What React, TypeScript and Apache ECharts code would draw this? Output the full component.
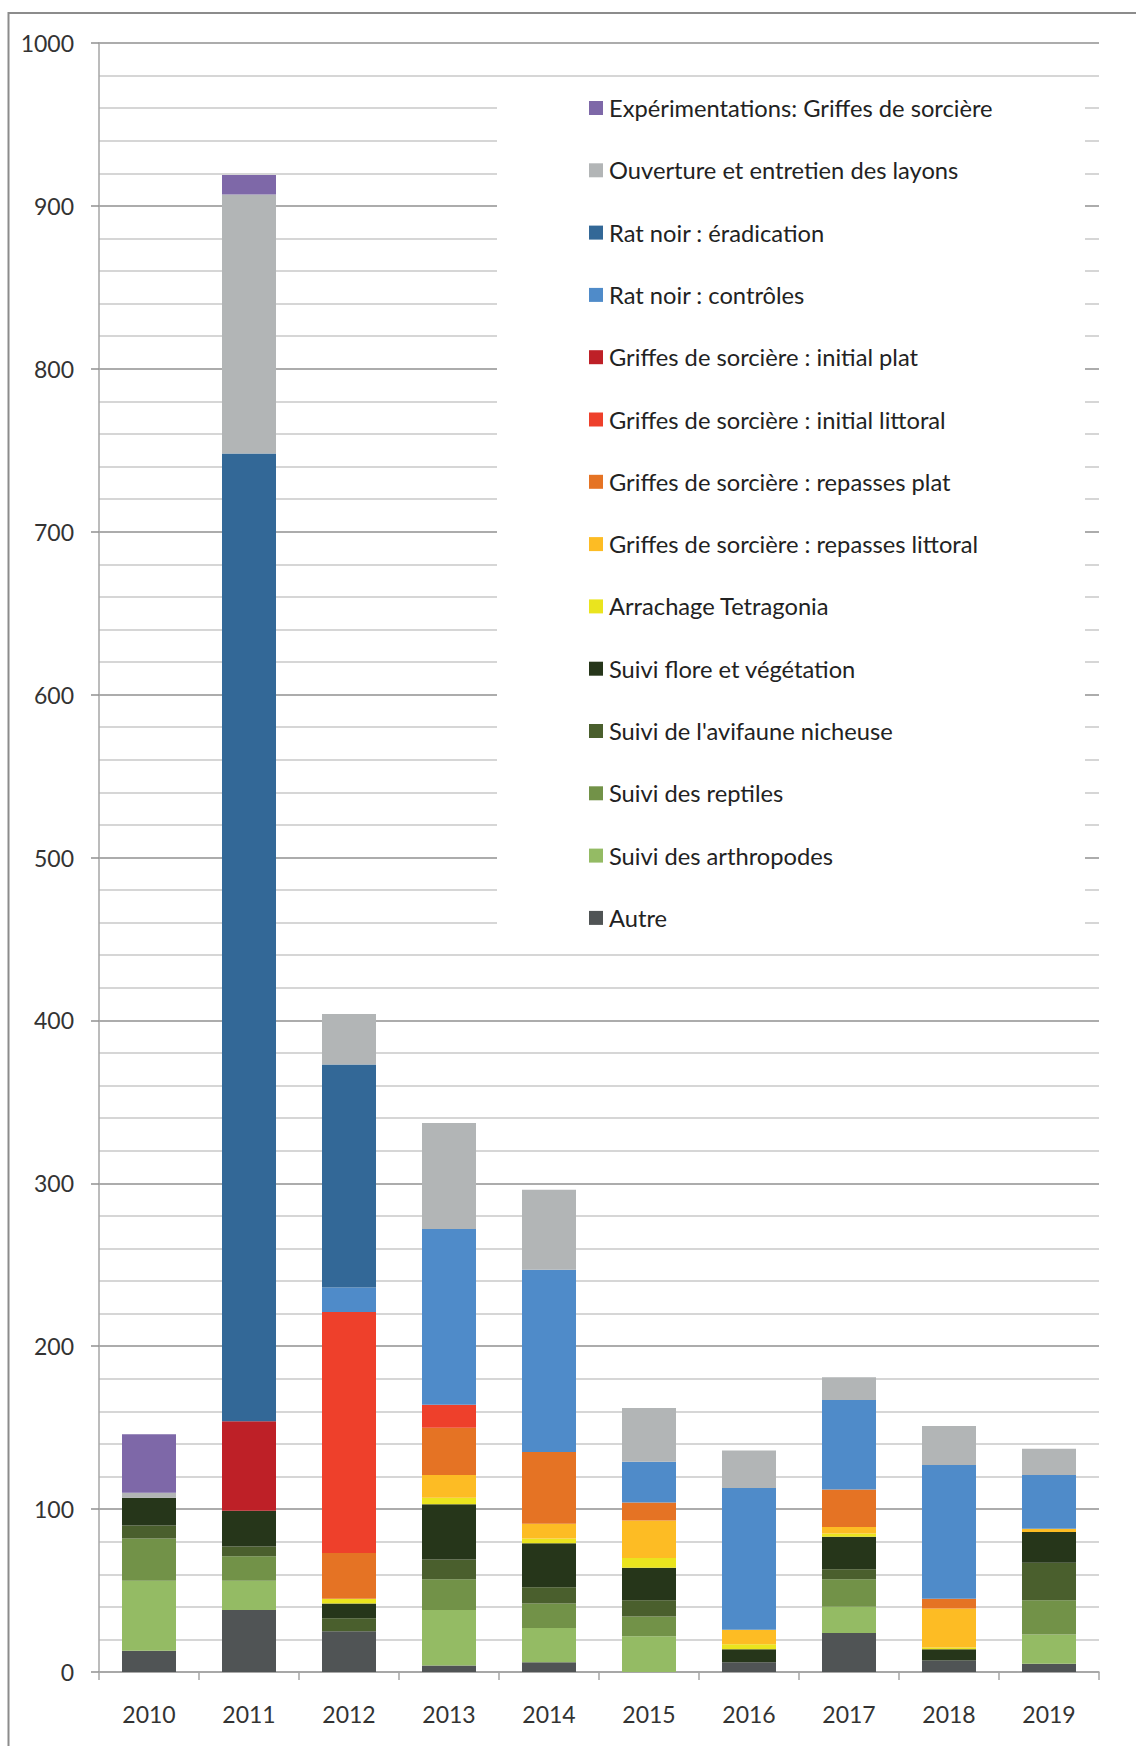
import React, { useEffect, useRef } from "react";
import * as echarts from "echarts";

const years = ["2010", "2011", "2012", "2013", "2014", "2015", "2016", "2017", "2018", "2019"];

const autre = [13, 38, 25, 4, 6, 0, 6, 24, 7, 5];
const arthropodes = [43, 18, 0, 34, 21, 22, 0, 16, 0, 18];
const reptiles = [26, 15, 0, 19, 15, 12, 0, 17, 0, 21];
const avifaune = [8, 6, 8, 12, 10, 10, 0, 6, 0, 23];
const flore = [17, 22, 9, 34, 27, 20, 8, 20, 7, 19];
const tetragonia = [0, 0, 3, 4, 3, 6, 3, 2, 1, 0];
const repassesLittoral = [0, 0, 0, 14, 9, 23, 9, 4, 24, 2];
const repassesPlat = [0, 0, 28, 29, 44, 11, 0, 23, 6, 0];
const initialLittoral = [0, 0, 148, 14, 0, 0, 0, 0, 0, 0];
const initialPlat = [0, 55, 0, 0, 0, 0, 0, 0, 0, 0];
const ratControles = [0, 0, 15, 108, 112, 25, 87, 55, 82, 33];
const ratEradication = [0, 594, 137, 0, 0, 0, 0, 0, 0, 0];
const ouverture = [3, 159, 31, 65, 49, 33, 23, 14, 24, 16];
const experimentations = [36, 12, 0, 0, 0, 0, 0, 0, 0, 0];

const yTicks = { min: 0, max: 1000, interval: 100 };

// bottom-to-top stacking order
const seriesDefs = [
  { name: "Autre", data: autre, color: "#505455" },
  { name: "Suivi des arthropodes", data: arthropodes, color: "#94BB64" },
  { name: "Suivi des reptiles", data: reptiles, color: "#729248" },
  { name: "Suivi de l'avifaune nicheuse", data: avifaune, color: "#4A5F2D" },
  { name: "Suivi flore et végétation", data: flore, color: "#26361A" },
  { name: "Arrachage Tetragonia", data: tetragonia, color: "#EAE41E" },
  { name: "Griffes de sorcière : repasses littoral", data: repassesLittoral, color: "#FDBC24" },
  { name: "Griffes de sorcière : repasses plat", data: repassesPlat, color: "#E57324" },
  { name: "Griffes de sorcière : initial littoral", data: initialLittoral, color: "#EE402B" },
  { name: "Griffes de sorcière : initial plat", data: initialPlat, color: "#BE2027" },
  { name: "Rat noir : contrôles", data: ratControles, color: "#4F8BC9" },
  { name: "Rat noir : éradication", data: ratEradication, color: "#336897" },
  { name: "Ouverture et entretien des layons", data: ouverture, color: "#B2B5B6" },
  { name: "Expérimentations: Griffes de sorcière", data: experimentations, color: "#7E68A8" },
];

const FONT = "Lato";

export default function App() {
  const ref = useRef<HTMLDivElement>(null);

  useEffect(() => {
    if (!ref.current) return;
    const chart = echarts.init(ref.current, null, { renderer: "svg" });
    chart.setOption({
      animation: false,
      backgroundColor: "#ffffff",
      grid: { left: 99, right: 37, top: 43, bottom: 74, containLabel: false },
      graphic: [
        {
          type: "line",
          z: 10,
          shape: { x1: 8.5, y1: 13, x2: 1136, y2: 13 },
          style: { stroke: "#8c8c8c", lineWidth: 2 },
        },
        {
          type: "line",
          z: 10,
          shape: { x1: 8.5, y1: 12, x2: 8.5, y2: 1746 },
          style: { stroke: "#8c8c8c", lineWidth: 2 },
        },
        {
          type: "rect",
          z: 1,
          shape: { x: 497, y: 90, width: 588, height: 845 },
          style: { fill: "#ffffff" },
        },
      ],
      legend: {
        orient: "vertical",
        left: 589,
        top: 96,
        padding: 0,
        itemWidth: 14,
        itemHeight: 14,
        itemGap: 38.3,
        icon: "rect",
        data: seriesDefs.map((s) => s.name).reverse(),
        textStyle: {
          fontFamily: FONT,
          fontSize: 23.7,
          lineHeight: 24,
          color: "#222222",
          padding: [0, 0, 0, 1],
        },
      },
      xAxis: {
        type: "category",
        data: years,
        axisLine: { lineStyle: { color: "#a6a6a6", width: 1.5 } },
        axisTick: { show: true, length: 8, lineStyle: { color: "#a6a6a6", width: 1.5 } },
        axisLabel: { margin: 30, fontFamily: FONT, fontSize: 23, color: "#333333" },
      },
      yAxis: {
        type: "value",
        min: yTicks.min,
        max: yTicks.max,
        interval: yTicks.interval,
        axisLine: { show: true, lineStyle: { color: "#a6a6a6", width: 1.5 } },
        axisTick: { show: true, length: 8, lineStyle: { color: "#909090", width: 1.5 } },
        axisLabel: {
          margin: 25,
          fontFamily: FONT,
          fontSize: 23,
          color: "#333333",
          formatter: (v: number) => String(v),
        },
        splitLine: { show: true, lineStyle: { color: "#909090", width: 1.5 } },
        minorTick: { show: false, splitNumber: 5 },
        minorSplitLine: { show: true, lineStyle: { color: "#c8c8c8", width: 1.5 } },
      },
      series: seriesDefs.map((s) => ({
        name: s.name,
        type: "bar",
        stack: "total",
        barWidth: 54,
        data: s.data,
        itemStyle: { color: s.color },
      })),
    });
    return () => chart.dispose();
  }, []);

  return (
    <div
      ref={ref}
      style={{ position: "fixed", left: 0, top: 0, width: 1136, height: 1746 }}
    />
  );
}
